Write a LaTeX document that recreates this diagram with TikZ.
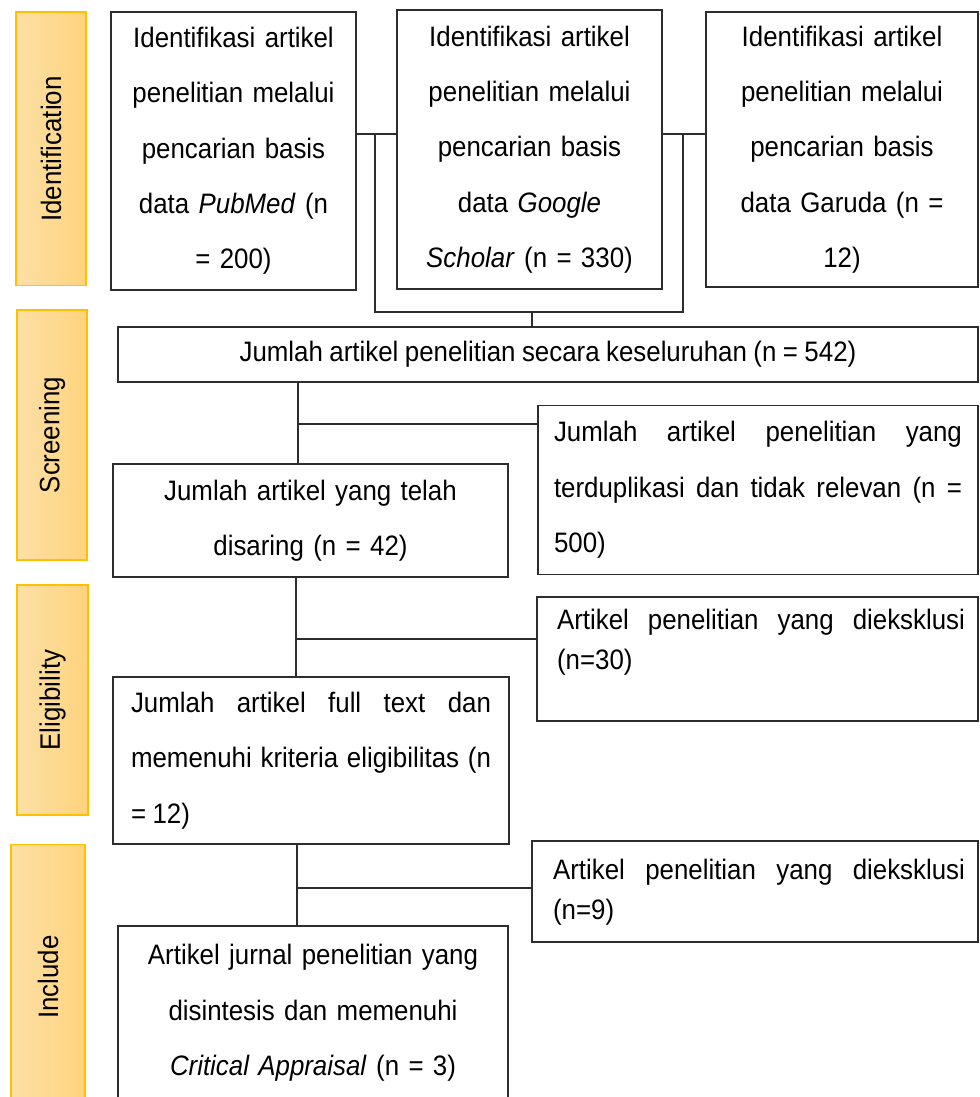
\documentclass[tikz,border=0pt]{standalone}
\usepackage{fontspec}
\setmainfont{Liberation Sans}[FakeStretch=0.92, WordSpace=0.9]
\definecolor{phaseline}{RGB}{255,192,0}
\definecolor{phaselight}{RGB}{253,224,166}
\definecolor{phasedark}{RGB}{254,211,125}
\definecolor{boxline}{RGB}{45,45,45}
\tolerance=10000

\begin{document}
\begin{tikzpicture}[
  x=0.02cm, y=-0.02cm,
  phasebox/.style={draw=phaseline, line width=0.6pt,
                   left color=phaselight, right color=phasedark,
                   minimum width=1.4cm, inner sep=0pt,
                   font=\fontsize{16}{18}\selectfont},
  stagebox/.style={draw=boxline, line width=0.9pt, inner sep=0pt,
                   align=center, font=\fontsize{16}{31.5}\selectfont},
  sidebox/.style={stagebox, align=justify},
  notetext/.style={inner sep=0pt, align=justify,
                   font=\fontsize{16}{22.7}\selectfont},
  flow/.style={draw=boxline, line width=0.8pt}
]
\useasboundingbox (0,0) rectangle (979,1097);

\node[phasebox, minimum height=5.48cm] (identlab) at (51,149) {\rotatebox{90}{Identification}};
\node[phasebox, minimum height=5.0cm] (screenlab) at (52,435) {\rotatebox{90}{Screening}};
\node[phasebox, minimum height=4.6cm, minimum width=1.42cm] (eliglab) at (52.5,700) {\rotatebox{90}{Eligibility}};
\node[phasebox, minimum height=5.32cm, minimum width=1.48cm] (incllab) at (48,977) {\rotatebox{90}{Include}};

\node[stagebox, minimum width=4.9cm, minimum height=5.56cm, text width=4.6cm] (pubmed) at (233.5,151)
  {Identifikasi artikel\\ penelitian melalui\\ pencarian basis\\ data \textit{PubMed} (n\\ = 200)};
\node[stagebox, minimum width=5.3cm, minimum height=5.58cm, text width=5.0cm] (gscholar) at (529.5,149.5)
  {Identifikasi artikel\\ penelitian melalui\\ pencarian basis\\ data \textit{Google}\\ \textit{Scholar} (n = 330)};
\node[stagebox, minimum width=5.44cm, minimum height=5.5cm, text width=5.1cm] (garuda) at (842,149.5)
  {Identifikasi artikel\\ penelitian melalui\\ pencarian basis\\ data Garuda (n =\\ 12)};

\node[stagebox, minimum width=17.2cm, minimum height=1.1cm] (total) at (548,354.5)
  {Jumlah artikel penelitian secara keseluruhan (n = 542)};

\node[stagebox, minimum width=7.9cm, minimum height=2.26cm, text width=7.5cm] (screened) at (310.5,520.5)
  {Jumlah artikel yang telah\\ disaring (n = 42)};
\node[sidebox, minimum width=8.8cm, minimum height=3.38cm, text width=8.16cm] (dupl) at (758,490)
  {Jumlah artikel penelitian yang\linebreak terduplikasi dan tidak relevan (n =\linebreak 500)};

\node[sidebox, minimum width=7.92cm, minimum height=3.34cm, text width=7.2cm] (eligible) at (311,760.5)
  {Jumlah artikel full text dan\linebreak memenuhi kriteria eligibilitas (n\linebreak = 12)};
\node[stagebox, minimum width=8.82cm, minimum height=2.48cm] (excl1) at (757.5,659) {};
\node[notetext, text width=8.16cm] (excl1txt) at (761,642)
  {Artikel penelitian yang dieksklusi\linebreak (n=30)};

\node[stagebox, minimum width=8.92cm, minimum height=2.02cm] (excl2) at (755,891.5) {};
\node[notetext, text width=8.24cm] (excl2txt) at (759,892)
  {Artikel penelitian yang dieksklusi\linebreak (n=9)};
\node[stagebox, minimum width=7.8cm, minimum height=3.48cm, text width=7.4cm] (final) at (313,1013)
  {Artikel jurnal penelitian yang\\ disintesis dan memenuhi\\ \textit{Critical Appraisal} (n = 3)};

\coordinate (jleft)  at (375,134);
\coordinate (jright) at (683,134);
\coordinate (jmid)   at (532,312);
\coordinate (jscr)   at (298,424);
\coordinate (jelig)  at (296,639);
\coordinate (jincl)  at (297,888);

\draw[flow] (pubmed.east |- jleft) -- (gscholar.west |- jleft);
\draw[flow] (gscholar.east |- jright) -- (garuda.west |- jright);
\draw[flow] (jleft) |- (jmid) -| (jright);
\draw[flow] (jmid) -- (total.north -| jmid);
\draw[flow] (total.south -| jscr) -- (screened.north -| jscr);
\draw[flow] (jscr) -- (dupl.west |- jscr);
\draw[flow] (screened.south -| jelig) -- (eligible.north -| jelig);
\draw[flow] (jelig) -- (excl1.west |- jelig);
\draw[flow] (eligible.south -| jincl) -- (final.north -| jincl);
\draw[flow] (jincl) -- (excl2.west |- jincl);
\end{tikzpicture}
\end{document}
